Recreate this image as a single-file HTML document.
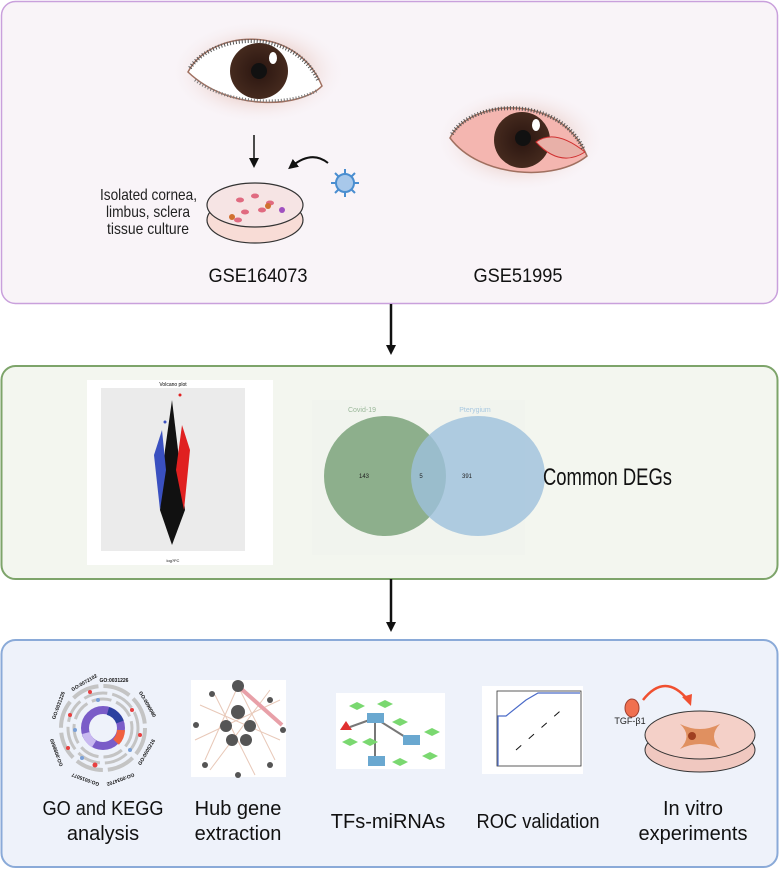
<!DOCTYPE html>
<html><head><meta charset="utf-8"><style>
body{margin:0;background:#fff;width:779px;height:870px;overflow:hidden}
svg{display:block;font-family:"Liberation Sans",sans-serif}
</style></head><body>
<svg width="779" height="870" viewBox="0 0 779 870">
<defs>
<marker id="ah" markerWidth="10" markerHeight="10" refX="5" refY="5" orient="auto" markerUnits="userSpaceOnUse"><path d="M0,0 L10,5 L0,10 Z" fill="#111"/></marker>
<radialGradient id="glow" cx="50%" cy="50%" r="50%"><stop offset="55%" stop-color="#e8c8c0" stop-opacity=".6"/><stop offset="100%" stop-color="#f9f4f8" stop-opacity="0"/></radialGradient>
<radialGradient id="iris" cx="50%" cy="50%" r="50%"><stop offset="0" stop-color="#2a1510"/><stop offset="1" stop-color="#452a1e"/></radialGradient>
<clipPath id="e1"><path d="M188,72 C210,30 295,22 322,86 C300,108 230,112 188,72 Z"/></clipPath>
<clipPath id="e2"><path d="M450,138 C470,98 560,92 587,156 C555,182 480,178 450,138 Z"/></clipPath>
</defs>
<rect x="1.5" y="1.5" width="776" height="302" rx="14" fill="#f9f4f8" stroke="#c9a0dc" stroke-width="1.5"/>
<!-- eye 1 -->
<ellipse cx="258" cy="72" rx="88" ry="52" fill="url(#glow)"/>
<path d="M188,72 C210,30 295,22 322,86 C300,108 230,112 188,72 Z" fill="#fff" stroke="#a07060" stroke-width="1.5"/>
<g clip-path="url(#e1)"><ellipse cx="259" cy="71" rx="29" ry="28" fill="url(#iris)"/><circle cx="259" cy="71" r="8" fill="#111"/><ellipse cx="273" cy="58" rx="4" ry="6" fill="#fff"/></g>
<path d="M190,68 C212,34 292,26 318,80" fill="none" stroke="#555" stroke-width="4" stroke-dasharray="1 2"/>
<path d="M195,80 C230,106 290,106 318,90" fill="none" stroke="#777" stroke-width="3" stroke-dasharray="1 2"/>
<line x1="254" y1="135" x2="254" y2="163" stroke="#111" stroke-width="1.5" marker-end="url(#ah)"/>
<path d="M328,163 Q312,150 292,166" fill="none" stroke="#111" stroke-width="2" marker-end="url(#ah)"/>
<g stroke="#4a8ed0" stroke-width="2"><line x1="331" y1="183" x2="359" y2="183"/><line x1="345" y1="169" x2="345" y2="197"/><line x1="335" y1="173" x2="355" y2="193"/><line x1="355" y1="173" x2="335" y2="193"/></g>
<circle cx="345" cy="183" r="9" fill="#a8c8ea" stroke="#4a8ed0" stroke-width="2"/>
<ellipse cx="255" cy="220" rx="48" ry="23" fill="#f8dcd6" stroke="#333" stroke-width="1.2"/>
<ellipse cx="255" cy="205" rx="48" ry="22" fill="#f6e4e4" stroke="#333" stroke-width="1.2"/>
<g fill="#e06a80"><ellipse cx="240" cy="200" rx="4" ry="2.5"/><ellipse cx="255" cy="196" rx="4" ry="2.5"/><ellipse cx="245" cy="212" rx="4" ry="2.5"/><ellipse cx="262" cy="210" rx="4" ry="2.5"/><ellipse cx="270" cy="203" rx="4" ry="2.5"/><ellipse cx="238" cy="220" rx="4" ry="2.5"/></g>
<circle cx="268" cy="206" r="3" fill="#d07030"/><circle cx="232" cy="217" r="3" fill="#d07030"/><circle cx="282" cy="210" r="3" fill="#a050c0"/>
<g font-size="16" fill="#222" text-anchor="end" lengthAdjust="spacingAndGlyphs"><text x="197" y="200" textLength="97" lengthAdjust="spacingAndGlyphs">Isolated cornea,</text><text x="190" y="217" textLength="84" lengthAdjust="spacingAndGlyphs">limbus, sclera</text><text x="189" y="234" textLength="82" lengthAdjust="spacingAndGlyphs">tissue culture</text></g>
<text x="258" y="282" font-size="19" text-anchor="middle" fill="#111" textLength="99" lengthAdjust="spacingAndGlyphs">GSE164073</text>
<text x="518" y="282" font-size="19" text-anchor="middle" fill="#111" textLength="89" lengthAdjust="spacingAndGlyphs">GSE51995</text>
<!-- eye 2 -->
<ellipse cx="520" cy="140" rx="85" ry="52" fill="url(#glow)"/>
<path d="M450,138 C470,98 560,92 587,156 C555,182 480,178 450,138 Z" fill="#f4b6b0" stroke="#a07060" stroke-width="1.5"/>
<g clip-path="url(#e2)"><ellipse cx="522" cy="140" rx="28" ry="28" fill="url(#iris)"/><circle cx="523" cy="138" r="8" fill="#111"/><ellipse cx="536" cy="125" rx="4" ry="6" fill="#fff"/>
<path d="M536,142 Q555,128 585,152 Q560,168 536,142Z" fill="#e8b0a8" stroke="#d03030" stroke-width="1"/></g>
<path d="M452,134 C472,100 558,94 584,150" fill="none" stroke="#555" stroke-width="4" stroke-dasharray="1 2"/>
<line x1="391" y1="304" x2="391" y2="350" stroke="#111" stroke-width="2.5" marker-end="url(#ah)"/>
<!-- Green -->
<rect x="1.5" y="366" width="776" height="213" rx="14" fill="#f3f6ef" stroke="#7da46a" stroke-width="2"/>
<rect x="87" y="380" width="186" height="185" fill="#fff"/>
<rect x="101" y="388" width="144" height="163" fill="#ebebeb"/>
<text x="173" y="386" font-size="5" text-anchor="middle">Volcano plot</text>
<text x="173" y="562" font-size="4" text-anchor="middle">log?FC</text>
<path d="M172,545 L160,510 L165,450 L172,400 L178,450 L185,510 Z" fill="#111"/>
<path d="M160,510 L154,455 L162,430 L166,470 Z" fill="#3a50c0"/>
<path d="M184,510 L190,450 L182,425 L176,470 Z" fill="#e02020"/>
<circle cx="180" cy="395" r="1.5" fill="#e02020"/><circle cx="165" cy="422" r="1.5" fill="#3a50c0"/>
<rect x="312" y="400" width="213" height="155" fill="#f1f4ee"/>
<ellipse cx="385" cy="476" rx="61" ry="60" fill="#8daf8c"/>
<ellipse cx="478" cy="476" rx="67" ry="60" fill="#9ec1dc" fill-opacity=".8"/>
<text x="362" y="412" font-size="7" fill="#9bb89a" text-anchor="middle">Covid-19</text>
<text x="475" y="412" font-size="7" fill="#a8c8e0" text-anchor="middle">Pterygium</text>
<g font-size="6" text-anchor="middle" fill="#222"><text x="364" y="478">143</text><text x="421" y="478">5</text><text x="467" y="478">391</text></g>
<text x="543" y="485" font-size="24" fill="#111" textLength="129" lengthAdjust="spacingAndGlyphs">Common DEGs</text>
<line x1="391" y1="579" x2="391" y2="627" stroke="#111" stroke-width="2.5" marker-end="url(#ah)"/>
<!-- Blue -->
<rect x="1.5" y="640" width="776" height="227" rx="14" fill="#eef2fa" stroke="#8aaad8" stroke-width="2"/>
<!-- GO -->
<circle cx="103" cy="728" r="42" fill="none" stroke="#c4c4c4" stroke-width="4" stroke-dasharray="28 5"/>
<circle cx="103" cy="728" r="35" fill="none" stroke="#c4c4c4" stroke-width="3" stroke-dasharray="24 5"/>
<circle cx="103" cy="728" r="29" fill="none" stroke="#c4c4c4" stroke-width="3" stroke-dasharray="20 5"/>
<g font-size="5" fill="#111" text-anchor="middle" font-weight="bold"><text x="114" y="682">GO:0031226</text><text x="85" y="684" transform="rotate(-30 85 684)">GO:0072102</text><text x="146" y="705" transform="rotate(60 146 705)">GO:0090080</text><text x="148" y="753" transform="rotate(-60 148 753)">GO:0005216</text><text x="120" y="778" transform="rotate(160 120 778)">GO:0034702</text><text x="86" y="778" transform="rotate(200 86 778)">GO:0015077</text><text x="58" y="752" transform="rotate(-110 58 752)">GO:0098660</text><text x="60" y="706" transform="rotate(-70 60 706)">GO:0031226</text></g>
<g fill="#e84040"><circle cx="90" cy="692" r="2"/><circle cx="70" cy="715" r="2"/><circle cx="140" cy="735" r="2"/><circle cx="95" cy="765" r="2.5"/><circle cx="68" cy="748" r="2"/><circle cx="132" cy="710" r="2"/></g>
<g fill="#7aa0d8"><circle cx="98" cy="700" r="2"/><circle cx="75" cy="730" r="2"/><circle cx="130" cy="750" r="2"/><circle cx="82" cy="758" r="2"/></g>
<circle cx="103" cy="728" r="18" fill="none" stroke="#7a5cc8" stroke-width="8"/>
<path d="M108,711 A18,18 0 0 1 120,722" stroke="#2a40a0" stroke-width="8" fill="none"/>
<path d="M121,730 A18,18 0 0 1 116,742" stroke="#f06040" stroke-width="8" fill="none"/>
<path d="M86,733 A18,18 0 0 0 94,744" stroke="#c8b8f0" stroke-width="8" fill="none"/>
<!-- Hub -->
<rect x="191" y="680" width="95" height="97" fill="#fff"/>
<g stroke="#e8c8b8" stroke-width="1"><line x1="238" y1="686" x2="205" y2="760"/><line x1="238" y1="686" x2="275" y2="760"/><line x1="200" y1="705" x2="280" y2="740"/><line x1="215" y1="695" x2="255" y2="775"/><line x1="195" y1="740" x2="280" y2="700"/><line x1="210" y1="770" x2="270" y2="690"/></g>
<line x1="238" y1="686" x2="282" y2="725" stroke="#e8a0a8" stroke-width="4"/>
<g fill="#555"><circle cx="238" cy="686" r="6"/><circle cx="238" cy="712" r="7"/><circle cx="226" cy="726" r="6"/><circle cx="250" cy="726" r="6"/><circle cx="232" cy="740" r="6"/><circle cx="246" cy="740" r="6"/><circle cx="212" cy="694" r="3"/><circle cx="270" cy="700" r="3"/><circle cx="196" cy="725" r="3"/><circle cx="283" cy="730" r="3"/><circle cx="205" cy="765" r="3"/><circle cx="270" cy="765" r="3"/><circle cx="238" cy="775" r="3"/></g>
<!-- TFs -->
<rect x="336" y="693" width="109" height="76" fill="#fff"/>
<g stroke="#777" stroke-width="2"><line x1="375" y1="718" x2="410" y2="740"/><line x1="375" y1="718" x2="375" y2="760"/><line x1="375" y1="718" x2="350" y2="727"/></g>
<rect x="367" y="713" width="17" height="10" fill="#6aa8d0"/><rect x="403" y="735" width="17" height="10" fill="#6aa8d0"/><rect x="368" y="756" width="17" height="10" fill="#6aa8d0"/>
<g fill="#7ad870"><path d="M357,702l8,4-8,4-8-4z"/><path d="M385,700l8,4-8,4-8-4z"/><path d="M400,718l8,4-8,4-8-4z"/><path d="M432,728l8,4-8,4-8-4z"/><path d="M370,738l8,4-8,4-8-4z"/><path d="M430,752l8,4-8,4-8-4z"/><path d="M400,758l8,4-8,4-8-4z"/><path d="M350,738l8,4-8,4-8-4z"/></g>
<path d="M346,721l6,9h-12z" fill="#e03030"/>
<!-- ROC -->
<rect x="482" y="686" width="101" height="88" fill="#fff"/>
<rect x="497" y="691" width="84" height="75" fill="none" stroke="#333" stroke-width=".8"/>
<path d="M498,766 L498,716 L506,716 L526,700 L538,693 L580,693" fill="none" stroke="#4a6ac8" stroke-width="1.2"/>
<line x1="516" y1="750" x2="567" y2="705" stroke="#111" stroke-dasharray="7 10"/>
<!-- in vitro -->
<ellipse cx="632" cy="708" rx="7" ry="9" fill="#f07050" stroke="#a04030"/>
<text x="630" y="724" font-size="9" text-anchor="middle" fill="#222">TGF-β1</text>
<path d="M643,700 Q665,672 688,700" fill="none" stroke="#f05030" stroke-width="2.5"/>
<path d="M682,697 l9,9 l1,-12z" fill="#f05030"/>
<ellipse cx="700" cy="750" rx="55" ry="22" fill="#f0c8c0" stroke="#333"/>
<ellipse cx="700" cy="735" rx="55" ry="24" fill="#f4d0c8" stroke="#333"/>
<path d="M680,724 Q700,734 720,724 Q708,736 720,749 Q700,739 680,749 Q693,736 680,724Z" fill="#e09060"/>
<circle cx="692" cy="736" r="4" fill="#a04020"/>
<g font-size="20" fill="#111" text-anchor="middle">
<text x="103" y="815" textLength="121" lengthAdjust="spacingAndGlyphs">GO and KEGG</text><text x="103" y="840">analysis</text>
<text x="238" y="815">Hub gene</text><text x="238" y="840">extraction</text>
<text x="388" y="828">TFs-miRNAs</text>
<text x="538" y="828" textLength="123" lengthAdjust="spacingAndGlyphs">ROC validation</text>
<text x="693" y="815">In vitro</text><text x="693" y="840">experiments</text>
</g>
</svg>
</body></html>
